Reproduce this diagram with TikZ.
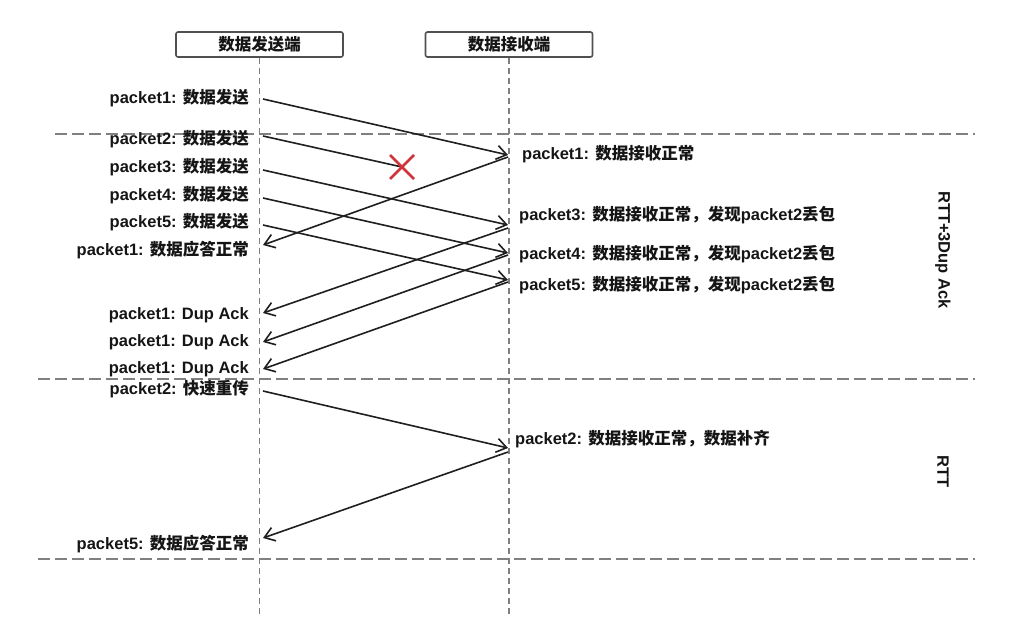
\documentclass[tikz,border=0pt]{standalone}
\usepackage{fontspec}
\setmainfont{Liberation Sans}
\newfontfamily\cjk{Noto Sans CJK SC}
\usetikzlibrary{arrows.meta,calc}
\newcommand\zh[1]{{\cjk #1}}
\definecolor{lifegray}{HTML}{808080}
\definecolor{boxgray}{HTML}{505050}
\definecolor{txt}{HTML}{151515}
\definecolor{xred}{HTML}{D0343A}
\begin{document}
\begin{tikzpicture}[x=1pt,y=-1pt,
 every node/.style={font=\fontsize{16.5}{18}\selectfont\bfseries, text=txt, inner sep=0pt},
 hdr/.style={draw=boxgray, line width=1.6pt, rounded corners=2pt, minimum width=167pt, minimum height=25pt},
 lifeline/.style={draw=lifegray, line width=1.9pt, dash pattern=on 6pt off 4pt},
 phase/.style={draw=lifegray, line width=2pt, dash pattern=on 12pt off 5pt},
 msg/.style={draw=black!88, line width=1.6pt, -{Straight Barb[length=10pt,width=14pt,line width=1.6pt]}},
 lost/.style={draw=black!88, line width=1.6pt},
 lbl/.style={anchor=east},
 rlbl/.style={anchor=west},
 side/.style={rotate=-90}]
\useasboundingbox (0,0) rectangle (1022,621);

% headers and lifelines
\node[hdr] (snd) at (259.5,44.5) {\zh{数据发送端}};
\node[hdr] (rcv) at (509,44.5) {\zh{数据接收端}};
\coordinate (sndend) at (259.5,615);
\coordinate (rcvend) at (509,615);
\draw[lifeline] (snd.south) -- (sndend);
\draw[lifeline] (rcv.south) -- (rcvend);

% phase separators
\coordinate (p1a) at (55,134);  \coordinate (p1b) at (975,134);
\coordinate (p2a) at (38,379);  \coordinate (p2b) at (975,379);
\coordinate (p3a) at (38,559);  \coordinate (p3b) at (975,559);
\draw[phase] (p1a) -- (p1b);
\draw[phase] (p2a) -- (p2b);
\draw[phase] (p3a) -- (p3b);

% message end points
\coordinate (s1) at (263,99);   \coordinate (r1) at (508,155);
\coordinate (s2) at (263,136);  \coordinate (xm) at (402,167);
\coordinate (s3) at (263,170);  \coordinate (r3) at (508,225);
\coordinate (s4) at (263,198);  \coordinate (r4) at (508,253);
\coordinate (s5) at (263,225);  \coordinate (r5) at (508,280);
\coordinate (a1s) at (508,157); \coordinate (a1e) at (263,245);
\coordinate (d1s) at (508,228); \coordinate (d1e) at (263,313);
\coordinate (d2s) at (508,255); \coordinate (d2e) at (263,342);
\coordinate (d3s) at (508,282); \coordinate (d3e) at (263,369);
\coordinate (rts) at (263,391); \coordinate (rte) at (508,448);
\coordinate (a5s) at (508,452); \coordinate (a5e) at (263,538);

\draw[msg] (s1) -- (r1);
\draw[lost] (s2) -- (xm);
\draw[msg] (s3) -- (r3);
\draw[msg] (s4) -- (r4);
\draw[msg] (s5) -- (r5);
\draw[msg] (a1s) -- (a1e);
\draw[msg] (d1s) -- (d1e);
\draw[msg] (d2s) -- (d2e);
\draw[msg] (d3s) -- (d3e);
\draw[msg] (rts) -- (rte);
\draw[msg] (a5s) -- (a5e);

% lost packet cross
\draw[xred, line width=2.6pt] ($(xm)+(-12,-12)$) -- ($(xm)+(12,12)$);
\draw[xred, line width=2.6pt] ($(xm)+(-12,12)$) -- ($(xm)+(12,-12)$);

% sender labels
\node[lbl] (l1) at (249,98)  {packet1: \zh{数据发送}};
\node[lbl] (l2) at (249,139) {packet2: \zh{数据发送}};
\node[lbl] (l3) at (249,167) {packet3: \zh{数据发送}};
\node[lbl] (l4) at (249,195) {packet4: \zh{数据发送}};
\node[lbl] (l5) at (249,222) {packet5: \zh{数据发送}};
\node[lbl] (l6) at (249,250) {packet1: \zh{数据应答正常}};
\node[lbl] (l7) at (249,315) {packet1: Dup Ack};
\node[lbl] (l8) at (249,342) {packet1: Dup Ack};
\node[lbl] (l9) at (249,369) {packet1: Dup Ack};
\node[lbl] (l10) at (249,389) {packet2: \zh{快速重传}};
\node[lbl] (l11) at (249,544) {packet5: \zh{数据应答正常}};

% receiver labels
\node[rlbl] (q1) at (522,154) {packet1: \zh{数据接收正常}};
\node[rlbl] (q3) at (519,215) {packet3: \zh{数据接收正常，发现}packet2\zh{丢包}};
\node[rlbl] (q4) at (519,254) {packet4: \zh{数据接收正常，发现}packet2\zh{丢包}};
\node[rlbl] (q5) at (519,285) {packet5: \zh{数据接收正常，发现}packet2\zh{丢包}};
\node[rlbl] (q2) at (515,439) {packet2: \zh{数据接收正常，数据补齐}};

% phase names
\node[side] (ph1) at (943,250) {RTT+3Dup Ack};
\node[side] (ph2) at (943,472) {RTT};
\end{tikzpicture}
\end{document}
